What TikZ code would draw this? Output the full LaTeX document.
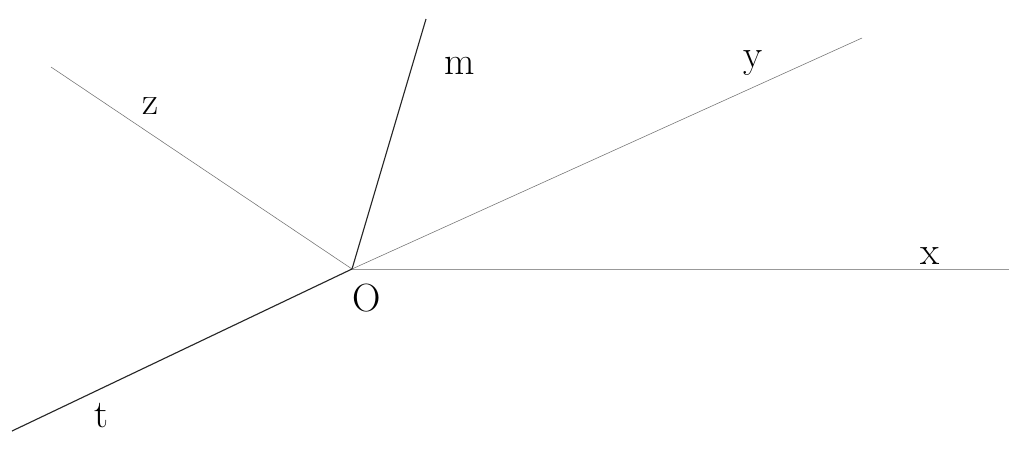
\documentclass[tikz,border=0pt]{standalone}
\usepackage{tikz}

\begin{document}
\begin{tikzpicture}[x=0.025cm,y=-0.025cm]
      \tikzstyle{axis}=[draw=black!55,thin]
      \tikzstyle{bold}=[draw=black!85,line width=0.8pt]
      \tikzstyle{lab}=[inner sep=0pt,font=\fontsize{28}{30}\selectfont]

      \useasboundingbox (0,0) rectangle (1024,463);

      \coordinate (O) at (352,269);
      \coordinate (xend) at (1009,269);
      \coordinate (yend) at (862,38);
      \coordinate (mend) at (426,19);
      \coordinate (zend) at (51,67);
      \coordinate (tend) at (12,431);

      \node[lab] (xlab) at (930,256) {x};
      \node[lab] (ylab) at (753,63) {y};
      \node[lab] (mlab) at (460,66) {m};
      \node[lab] (zlab) at (150,106) {z};
      \node[lab] (olab) at (367,298) {O};
      \node[lab] (tlab) at (101,416) {t};

      \path[axis,draw=black!40] (O) -- (xend);
      \path[axis] (O) -- (yend);
      \path[axis] (O) -- (zend);
      \path[bold] (O) -- (mend);
      \path[bold] (O) -- (tend);
\end{tikzpicture}
\end{document}
